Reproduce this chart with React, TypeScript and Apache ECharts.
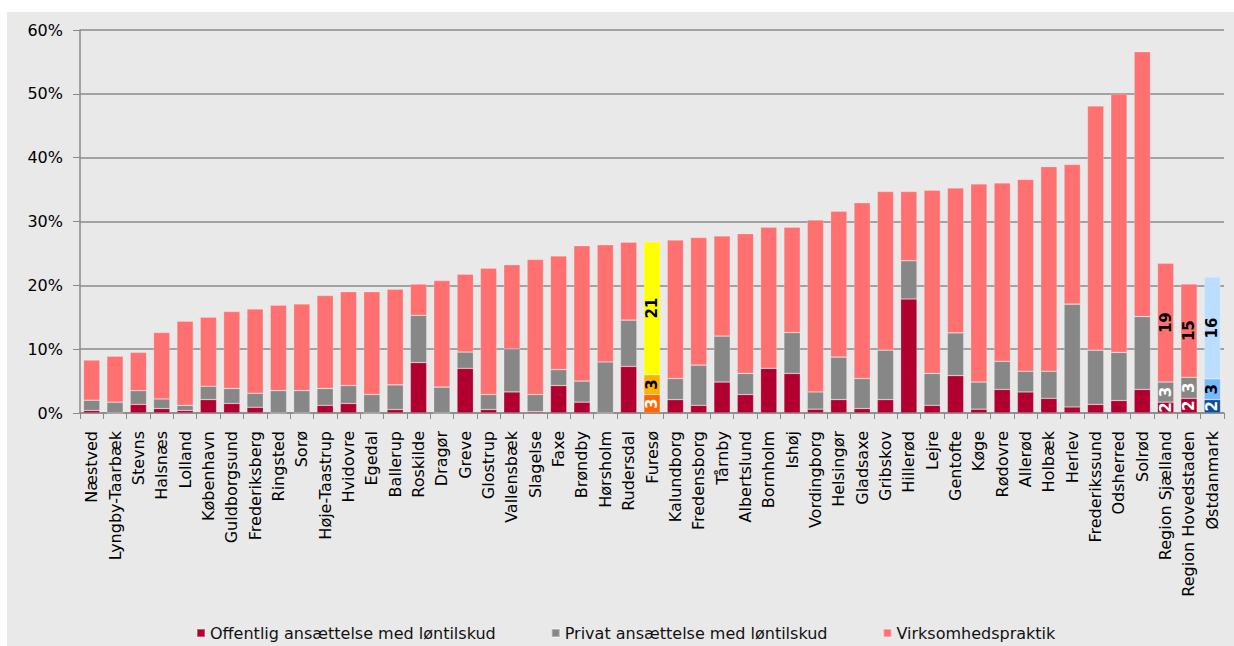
import React, { useEffect, useRef } from "react";
import * as echarts from "echarts";

const categories = [
  "Næstved", "Lyngby-Taarbæk", "Stevns", "Halsnæs", "Lolland", "København", "Guldborgsund",
  "Frederiksberg", "Ringsted", "Sorø", "Høje-Taastrup", "Hvidovre", "Egedal", "Ballerup",
  "Roskilde", "Dragør", "Greve", "Glostrup", "Vallensbæk", "Slagelse", "Faxe", "Brøndby",
  "Hørsholm", "Rudersdal", "Furesø", "Kalundborg", "Fredensborg", "Tårnby", "Albertslund",
  "Bornholm", "Ishøj", "Vordingborg", "Helsingør", "Gladsaxe", "Gribskov", "Hillerød", "Lejre",
  "Gentofte", "Køge", "Rødovre", "Allerød", "Holbæk", "Herlev", "Frederikssund", "Odsherred",
  "Solrød", "Region Sjælland", "Region Hovedstaden", "Østdanmark",
];

const offentlig = [
  0.4, 0, 1.35, 0.7, 0.4, 2.1, 1.5, 0.9, 0, 0, 1.2, 1.5, 0, 0.55, 7.9, 0, 7.0, 0.55, 3.3, 0.2,
  4.3, 1.7, 0, 7.3, 2.9, 2.1, 1.2, 4.85, 2.9, 7.0, 6.2, 0.6, 2.1, 0.7, 2.1, 17.85, 1.2, 5.85,
  0.6, 3.7, 3.3, 2.3, 0.95, 1.35, 1.95, 3.7, 1.7, 2.3, 2.1,
];

const privat = [
  1.6, 1.7, 2.15, 1.5, 0.8, 2.1, 2.35, 2.2, 3.5, 3.5, 2.65, 2.8, 2.9, 3.85, 7.4, 4.05, 2.55,
  2.35, 6.75, 2.7, 2.5, 3.3, 8.0, 7.25, 3.1, 3.3, 6.3, 7.2, 3.3, 0, 6.4, 2.7, 6.65, 4.7, 7.75,
  6.0, 5.0, 6.7, 4.25, 4.4, 3.25, 4.25, 16.1, 8.5, 7.55, 11.4, 3.15, 3.3, 3.25,
];

const virksomhedspraktik = [
  6.3, 7.2, 6.0, 10.4, 13.2, 10.8, 12.05, 13.2, 13.4, 13.6, 14.55, 14.7, 16.1, 15.0, 4.9, 16.7,
  12.2, 19.8, 13.2, 21.15, 17.8, 21.2, 18.35, 12.2, 20.85, 21.7, 20.0, 15.7, 21.9, 22.1, 16.5,
  26.95, 22.85, 27.55, 24.85, 10.85, 28.7, 22.7, 31.05, 27.95, 30.05, 32.05, 21.9, 38.25, 40.5,
  41.5, 18.6, 14.6, 15.95,
];

const seriesNames = [
  "Offentlig ansættelse med løntilskud",
  "Privat ansættelse med løntilskud",
  "Virksomhedspraktik",
];
const seriesColors = ["#B1002F", "#878787", "#FF7070"];

const highlightColors: Record<string, string[]> = {
  "Furesø": ["#FF6600", "#FFB300", "#FFFF00"],
  "Østdanmark": ["#0B4F9C", "#77B8FF", "#BBDDFF"],
};
const labelledCategories = ["Furesø", "Region Sjælland", "Region Hovedstaden", "Østdanmark"];

const yTicks = [0, 10, 20, 30, 40, 50, 60];

export default function App() {
  const ref = useRef<HTMLDivElement>(null);

  useEffect(() => {
    if (!ref.current) return;
    const chart = echarts.init(ref.current, undefined, { renderer: "svg" });
    const font = "'DejaVu Sans', Verdana, sans-serif";
    const seriesData = [offentlig, privat, virksomhedspraktik];

    const series = seriesData.map((vals, si) => ({
      name: seriesNames[si],
      type: "bar",
      stack: "total",
      barWidth: "70%",
      itemStyle: { color: seriesColors[si], borderColor: "rgba(255,255,255,0.35)", borderWidth: 0.6 },
      data: vals.map((v, i) => {
        const cat = categories[i];
        const hl = highlightColors[cat];
        const item: any = { value: v };
        if (hl) item.itemStyle = { color: hl[si] };
        if (labelledCategories.includes(cat)) {
          let color = si === 2 ? "#000" : "#fff";
          if (hl && si === 1) color = "#000";
          item.label = {
            show: true,
            position: "inside",
            rotate: 90,
            fontSize: 15,
            fontWeight: "bold",
            fontFamily: font,
            color,
            formatter: (p: any) => String(Math.round(p.value)),
          };
        }
        return item;
      }),
    }));

    chart.setOption({
      animation: false,
      backgroundColor: "#ffffff",
      graphic: {
        elements: [
          {
            type: "rect",
            z: -100,
            silent: true,
            shape: { x: 7, y: 12, width: 1240, height: 640 },
            style: { fill: "#E9E9E9" },
          },
        ],
      },
      legend: {
        left: 191,
        top: 620,
        icon: "rect",
        itemWidth: 8,
        itemHeight: 8,
        itemGap: 55,
        textStyle: { fontSize: 16, fontFamily: font, color: "#111" },
        data: seriesNames,
      },
      grid: { left: 80, right: 10, top: 30, bottom: 233, containLabel: false },
      xAxis: {
        type: "category",
        data: categories,
        axisLine: { lineStyle: { color: "#8a8a8a", width: 1.5 } },
        axisTick: { show: true, length: 6, lineStyle: { color: "#8a8a8a" } },
        axisLabel: {
          interval: 0,
          rotate: 90,
          fontSize: 16,
          fontFamily: font,
          color: "#000",
          margin: 18,
        },
      },
      yAxis: {
        type: "value",
        min: yTicks[0],
        max: yTicks[yTicks.length - 1],
        interval: 10,
        axisLine: { show: true, lineStyle: { color: "#8a8a8a", width: 1.5 } },
        axisTick: { show: true, length: 7, lineStyle: { color: "#8a8a8a" } },
        splitLine: { show: true, lineStyle: { color: "#8a8a8a", width: 1.5 } },
        axisLabel: {
          formatter: "{value}%",
          fontSize: 16,
          fontFamily: font,
          color: "#000",
          margin: 17,
        },
      },
      series,
    });

    return () => chart.dispose();
  }, []);

  return (
    <div
      ref={ref}
      style={{ position: "fixed", left: 0, top: 0, width: 1234, height: 646 }}
    />
  );
}
